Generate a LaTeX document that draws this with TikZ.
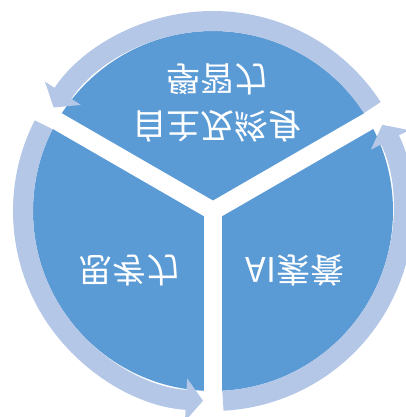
\documentclass[tikz,border=0pt]{standalone}
\usepackage{fontspec}
\newfontfamily\cjk{Noto Sans CJK TC}
\usetikzlibrary{arrows.meta}

\definecolor{pieblue}{HTML}{5B9BD5}
\definecolor{ringblue}{HTML}{B4C7E7}
\newcommand{\flipv}[1]{\scalebox{1}[-1]{#1}}

\tikzset{
  ring/.style={draw=ringblue, line width=20pt, -{Triangle[width=42pt,length=17pt]}},
  gapline/.style={draw=white, line width=18pt},
  pietext/.style={text=white, font=\cjk\fontsize{34}{47}\selectfont}
}

\begin{document}
\begin{tikzpicture}[x=1pt,y=1pt]
  \useasboundingbox (0,0) rectangle (406,-417);
  \coordinate (c) at (213,-211);
  % pie with three gaps
  \fill[pieblue] (c) circle[radius=180];
  \draw[gapline] (c) -- ++(270:205);
  \draw[gapline] (c) -- ++(150:205);
  \draw[gapline] (c) -- ++(30:205);
  % ring arrows
  \draw[ring] ([shift={(c)}]153:190) arc[start angle=153, end angle=267, radius=190];
  \draw[ring] ([shift={(c)}]273:190) arc[start angle=273, end angle=387, radius=190];
  \draw[ring] ([shift={(c)}]33:190) arc[start angle=33, end angle=147, radius=190];
  % labels, printed upside down
  \node[pietext] (study) at (217,-99) {\flipv{\begin{tabular}{@{}c@{}}自主及終身\\學習力\end{tabular}}};
  \node[pietext] (ai) at (295,-270) {\flipv{AI素養}};
  \node[pietext] (think) at (129,-270) {\flipv{思考力}};
\end{tikzpicture}
\end{document}
